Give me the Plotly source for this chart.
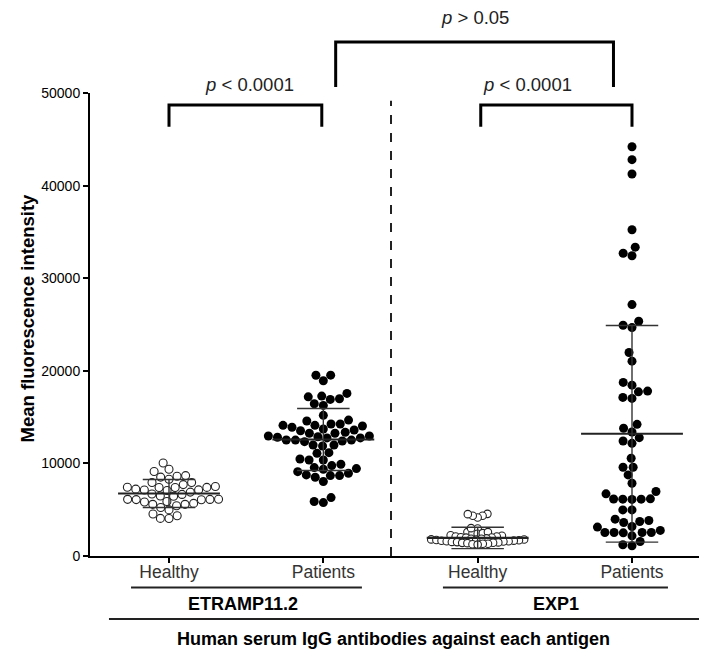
import numpy as np
import plotly.graph_objects as go

# ---------------- data ----------------
groups = ["Healthy", "Patients", "Healthy", "Patients"]
antigens = ["ETRAMP11.2", "EXP1"]
positions = [1, 2, 3, 4]

healthy_etramp = [10050, 9370, 9120, 8680, 8520, 8620, 8290, 7930, 7930, 7710,
                  7500, 7400, 7390, 7420, 7410, 7220, 7070, 7140, 7130, 6900,
                  6700, 6650, 6480, 6460, 6120, 6080, 6090, 6130, 6110, 5830,
                  5580, 5420, 5230, 5580, 5680, 5880, 4980, 4340, 4050, 4060, 4530]
patients_etramp = [19530, 18930, 19520, 17270, 16980, 17560, 16910, 17190, 16440, 16260,
                   15190, 14580, 14680, 14250, 14110, 14040, 13710, 13530, 13250, 13260,
                   13360, 13610, 13900, 14110, 14250, 12960, 12750, 12520, 12420, 12880,
                   12820, 12750, 12350, 12520, 12530, 12960, 11990, 11880, 11990, 11090,
                   10480, 11160, 10370, 9910, 9550, 9370, 9440, 9760, 10370, 8940,
                   8680, 8510, 8040, 8680, 8760, 9110, 6310, 5770, 5880]
healthy_exp1 = [4550, 4340, 4160, 4340, 4520, 2970, 2580, 2470, 2400, 2470,
                2580, 3010, 2240, 2190, 2110, 2100, 2020, 1980, 1990, 1900,
                1870, 1860, 1790, 1780, 1770, 1700, 1720, 1650, 1660, 1590,
                1600, 1560, 1520, 1500, 1470, 1430, 1420, 1390, 1330, 1320,
                1270, 1230]
patients_exp1 = [44200, 42800, 41250, 35230, 33350, 32420, 32700, 27150, 25350, 24670,
                 24920, 21980, 21040, 18450, 18750, 17810, 17730, 17130, 17020, 14220,
                 13790, 13390, 12780, 12420, 12170, 10560, 9590, 9590, 8760, 7860,
                 6960, 6710, 6140, 6170, 6140, 6150, 6110, 4980, 4980, 3980,
                 3730, 3830, 3190, 2760, 2540, 2540, 2540, 2540, 2500, 3120,
                 3620, 2180, 1570, 1110, 1210]
series = [healthy_etramp, patients_etramp, healthy_exp1, patients_exp1]
filled = [False, True, False, True]

means = [6750, 12580, 1950, 13200]
sds = [1510, 3350, 1150, 11700]

y_ticks = [0, 10000, 20000, 30000, 40000, 50000]
p_labels = ["<i>p</i> &lt; 0.0001", "<i>p</i> &lt; 0.0001", "<i>p</i> &gt; 0.05"]
x_title = "Human serum IgG antibodies against each antigen"
y_title = "Mean fluorescence intensity"

# ---------------- layout constants ----------------
# the page body has an 8px margin, so the figure is drawn 8px in from the corner
W, H = 699, 641
ML, MR, MT, MB = 82, 0, 85, 93
X0, X1 = 0.4881, 4.486
Y0, Y1 = 0, 50000
px_per_x = (W - ML - MR) / (X1 - X0)
px_per_y = (H - MT - MB) / (Y1 - Y0)
FONT = "Liberation Sans, Arial, sans-serif"


def xp(x):
    return (x - X0) / (X1 - X0)


def swarm(vals, d):
    """beeswarm x-offsets (pixels) for values, collision diameter d (px)."""
    ys = np.asarray(vals, float) * px_per_y
    order = np.argsort(ys)
    placed = []
    offs = np.zeros(len(ys))
    for i in order:
        y = ys[i]
        cands = [0.0]
        for (px, py) in placed:
            dy = abs(py - y)
            if dy < d:
                dx = np.sqrt(d * d - dy * dy)
                cands += [px + dx, px - dx]
        cands = sorted(cands, key=lambda c: (abs(c), c))
        for c in cands:
            if all((c - px) ** 2 + (y - py) ** 2 >= d * d - 1e-6 for (px, py) in placed):
                offs[i] = c
                placed.append((c, y))
                break
    return offs


collide = [8.6, 9.2, 5.2, 9.2]
msize = [8, 9, 7.5, 9]

fig = go.Figure()

for pos, vals, fill, d, ms in zip(positions, series, filled, collide, msize):
    offs = swarm(vals, d)
    xs = pos + offs / px_per_x
    fig.add_trace(go.Scatter(
        x=xs, y=vals, mode="markers",
        marker=dict(size=ms,
                    color="black" if fill else "white",
                    line=dict(color="#222", width=0 if fill else 1.1)),
        hoverinfo="y", showlegend=False))

# mean and SD lines
for pos, m, s in zip(positions, means, sds):
    fig.add_trace(go.Scatter(
        x=[pos - 0.33, pos + 0.33], y=[m, m], mode="lines",
        line=dict(color="#222", width=2.2), showlegend=False, hoverinfo="skip"))
    lo = max(m - s, Y0)
    fig.add_trace(go.Scatter(
        x=[pos, pos, None, pos - 0.17, pos + 0.17, None, pos - 0.17, pos + 0.17],
        y=[lo, m + s, None, m + s, m + s, None, lo, lo], mode="lines",
        line=dict(color="#333", width=1.4), showlegend=False, hoverinfo="skip"))

shapes = []
# dashed separator
shapes.append(dict(type="line", xref="paper", yref="paper",
                   x0=xp(2.4385), x1=xp(2.4385), y0=0, y1=0.983,
                   line=dict(color="#222", width=2, dash="dash")))


def bracket(xa, xb, ytop, ybot):
    return dict(type="path", xref="paper", yref="paper",
                path=f"M {xp(xa)},{ybot} L {xp(xa)},{ytop} L {xp(xb)},{ytop} L {xp(xb)},{ybot}",
                line=dict(color="black", width=3))


shapes.append(bracket(1.0, 1.99, 0.974, 0.927))
shapes.append(bracket(3.02, 4.0, 0.974, 0.927))
shapes.append(bracket(2.08, 3.88, 1.110, 1.013))

# category underlines
shapes.append(dict(type="line", xref="paper", yref="paper",
                   x0=xp(0.754), x1=xp(2.25), y0=-0.068, y1=-0.068,
                   line=dict(color="#222", width=2)))
shapes.append(dict(type="line", xref="paper", yref="paper",
                   x0=xp(2.775), x1=xp(4.233), y0=-0.068, y1=-0.068,
                   line=dict(color="#222", width=2)))
shapes.append(dict(type="line", xref="paper", yref="paper",
                   x0=xp(0.611), x1=1.0, y0=-0.136, y1=-0.136,
                   line=dict(color="#222", width=2)))

annotations = []
for txt, x, y in zip(p_labels, [1.5235, 3.325, 2.983], [1.0194, 1.0194, 1.162]):
    annotations.append(dict(text=txt, x=xp(x), y=y, xref="paper", yref="paper",
                            showarrow=False, xanchor="center", yanchor="middle",
                            font=dict(family=FONT, size=18.5, color="#222")))
for txt, xc in zip(antigens, [1.48, 3.51]):
    annotations.append(dict(text=f"<b>{txt}</b>", x=xp(xc), y=-0.1037,
                            xref="paper", yref="paper", showarrow=False,
                            xanchor="center", yanchor="middle",
                            font=dict(family=FONT, size=18, color="black")))
annotations.append(dict(text=f"<b>{x_title}</b>", x=xp(2.455), y=-0.179,
                        xref="paper", yref="paper", showarrow=False,
                        xanchor="center", yanchor="middle",
                        font=dict(family=FONT, size=18, color="black")))
annotations.append(dict(text=f"<b>{y_title}</b>", x=xp(0.086), y=0.513,
                        xref="paper", yref="paper", showarrow=False, textangle=-90,
                        xanchor="center", yanchor="middle",
                        font=dict(family=FONT, size=18.5, color="black")))

fig.update_layout(
    width=W, height=H, autosize=False,
    margin=dict(l=ML, r=MR, t=MT, b=MB, pad=0),
    paper_bgcolor="white", plot_bgcolor="white",
    showlegend=False, shapes=shapes, annotations=annotations,
    xaxis=dict(range=[X0, X1], tickvals=positions, ticktext=groups,
               showgrid=False, zeroline=False, showline=True, linecolor="black",
               linewidth=2, ticks="outside", ticklen=5, tickwidth=2, tickcolor="black",
               ticklabelstandoff=-6,
               tickfont=dict(family=FONT, size=17.5, color="#333"), fixedrange=True),
    yaxis=dict(range=[Y0, Y1], tickvals=y_ticks, ticktext=[str(v) for v in y_ticks],
               showgrid=False, zeroline=False, showline=True, linecolor="black",
               linewidth=2, ticks="outside", ticklen=5, tickwidth=2, tickcolor="black",
               tickfont=dict(family=FONT, size=14, color="black"), fixedrange=True),
)

fig.write_html("out.html")
